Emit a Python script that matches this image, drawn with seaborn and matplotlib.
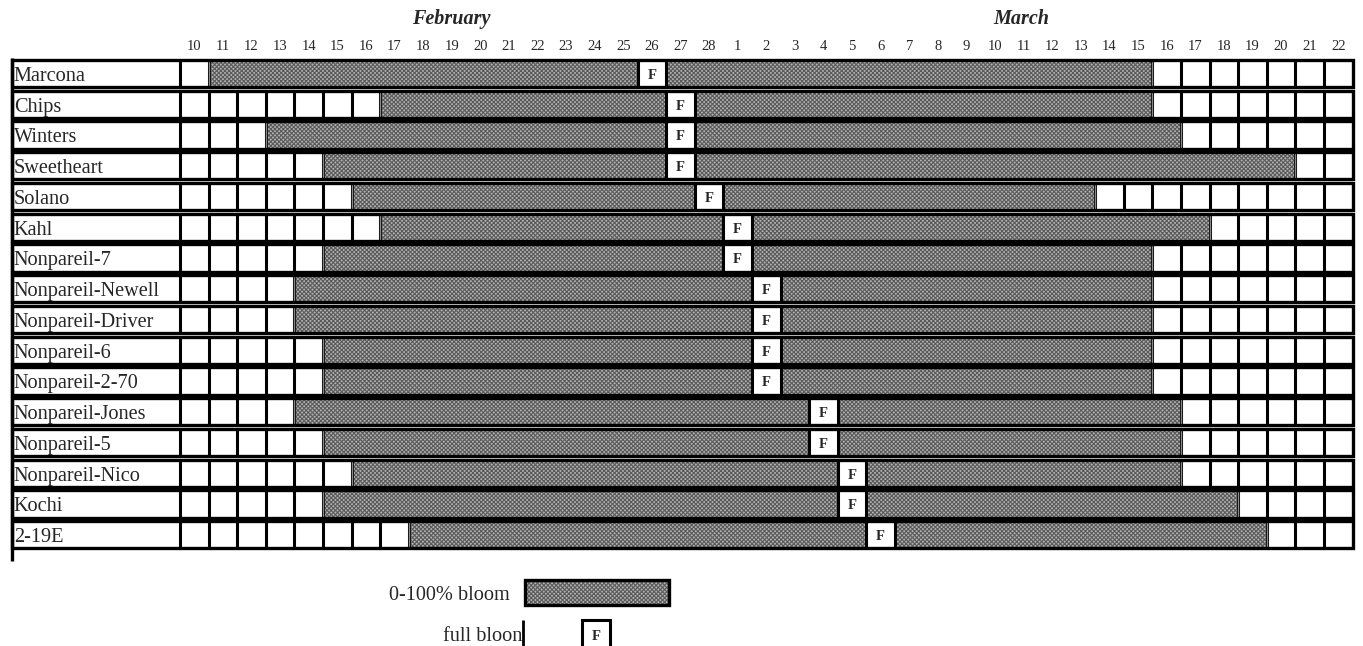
import numpy as np
import pandas as pd
import matplotlib
matplotlib.use("Agg")
import matplotlib.pyplot as plt
from matplotlib.patches import Rectangle
import seaborn as sns

varieties = ["Marcona", "Chips", "Winters", "Sweetheart", "Solano", "Kahl",
             "Nonpareil-7", "Nonpareil-Newell", "Nonpareil-Driver", "Nonpareil-6",
             "Nonpareil-2-70", "Nonpareil-Jones", "Nonpareil-5", "Nonpareil-Nico",
             "Kochi", "2-19E"]
bloom_start = ["02-11", "02-17", "02-13", "02-15", "02-16", "02-17", "02-15", "02-14",
               "02-14", "02-15", "02-15", "02-14", "02-15", "02-16", "02-15", "02-18"]
full_bloom = ["02-26", "02-27", "02-27", "02-27", "02-28", "03-01", "03-01", "03-02",
              "03-02", "03-02", "03-02", "03-04", "03-04", "03-05", "03-05", "03-06"]
bloom_end = ["03-15", "03-15", "03-16", "03-20", "03-13", "03-17", "03-15", "03-15",
             "03-15", "03-15", "03-15", "03-16", "03-16", "03-16", "03-18", "03-19"]
first_day = "02-10"
last_day = "03-22"

def to_date(s):
    return pd.to_datetime("2001-" + s)

days = pd.date_range(to_date(first_day), to_date(last_day))
day_labels = [str(d.day) for d in days]
n_days = len(days)

df = pd.DataFrame({"variety": varieties})
df["start"] = [(to_date(s) - days[0]).days for s in bloom_start]
df["full"] = [(to_date(s) - days[0]).days for s in full_bloom]
df["end"] = [(to_date(s) - days[0]).days for s in bloom_end]
df["row"] = np.arange(len(df))

sns.set_theme(style="white")
plt.rcParams["font.family"] = ["Liberation Serif", "DejaVu Serif"]
plt.rcParams["hatch.linewidth"] = 0.8

fig = plt.figure(figsize=(13.63, 6.46), dpi=100)
ax = fig.add_axes([0, 0, 1, 1])
ax.set_xlim(-6.294, 41.364)
ax.set_ylim(19.057, -1.951)
ax.axis("off")

lab_left = -5.874
row_h = 0.88
hatch_face = "#b4b4b4"
hatch_col = "#5a5a5a"
hatch = "xxxxxxxx"

for _, r in df.iterrows():
    y0 = r["row"]
    ax.add_patch(Rectangle((lab_left, y0), n_days - lab_left, row_h,
                           facecolor="white", edgecolor="none", zorder=1))
    # hatched bloom period, split around the full bloom day
    segs_left = [r["start"], r["full"] + 1]
    segs_w = [r["full"] - r["start"], r["end"] - r["full"]]
    ax.barh([y0 + row_h / 2] * 2, segs_w, left=segs_left, height=row_h,
            color=hatch_face, edgecolor=hatch_col, linewidth=0,
            hatch=hatch, zorder=2)
    # cell boundaries
    hatched = np.zeros(n_days, bool)
    hatched[r["start"]:r["end"] + 1] = True
    hatched[r["full"]] = False
    xs = [0] + [k for k in range(1, n_days) if not (hatched[k - 1] and hatched[k])]
    ax.vlines(xs, y0, y0 + row_h, color="black", lw=2.2, zorder=3)
    ax.vlines([r["start"], r["end"] + 1], y0, y0 + row_h, color="#888888", lw=1, zorder=3)
    ax.add_patch(Rectangle((lab_left, y0), n_days - lab_left, row_h,
                           facecolor="none", edgecolor="black", lw=2.4, zorder=4))
    ax.text(r["full"] + 0.5, y0 + row_h / 2 + 0.06, "F", ha="center", va="center",
            fontsize=10.5, fontweight="bold", zorder=5)
    ax.text(lab_left + 0.06, y0 + row_h / 2 + 0.09, r["variety"], ha="left", va="center",
            fontsize=14.6, zorder=5)

ax.vlines(lab_left, -0.05, 16.3, color="black", lw=2.4, zorder=4)

for i, lab in enumerate(day_labels):
    ax.text(i + 0.5, -0.45, lab, ha="center", va="center", fontsize=10.5)

ax.text(9.5, -1.33, "February", ha="center", va="center", fontsize=14.5,
        fontweight="bold", style="italic")
ax.text(29.4, -1.33, "March", ha="center", va="center", fontsize=14.5,
        fontweight="bold", style="italic")

# legend
ax.barh([17.315], [5.03], left=[12.08], height=0.81, color=hatch_face,
        edgecolor=hatch_col, linewidth=0, hatch=hatch, zorder=2)
ax.add_patch(Rectangle((12.08, 16.91), 5.03, 0.81, facecolor="none",
                       edgecolor="black", lw=2.4, zorder=3))
ax.text(11.54, 17.43, "0-100% bloom", ha="right", va="center", fontsize=14.6)
ax.text(11.96, 18.76, "full bloon", ha="right", va="center", fontsize=14.6)
ax.vlines(12.0, 18.2, 19.1, color="black", lw=2)
ax.add_patch(Rectangle((14.06, 18.21), 0.97, 0.9, facecolor="white",
                       edgecolor="black", lw=2.2, zorder=3))
ax.text(14.545, 18.74, "F", ha="center", va="center", fontsize=10.5, fontweight="bold", zorder=4)

fig.savefig("out.png", dpi=100)
